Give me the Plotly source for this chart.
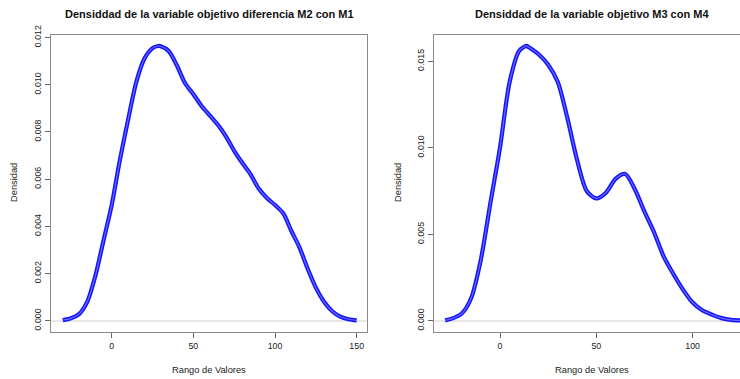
import plotly.graph_objects as go

# Left panel: density of M2 - M1 difference
x_left = [-30, -25, -20, -15, -10, -5, 0, 5, 10, 15, 20, 25, 28.5, 30, 35, 40, 45, 50, 55, 60,
          65, 70, 75, 80, 85, 90, 95, 100, 105, 110, 115, 120, 125, 130, 135, 140, 145, 150]
y_left = [0.00002, 0.0001, 0.00028, 0.0008, 0.0019, 0.0034, 0.0049, 0.0068, 0.0085, 0.0101,
          0.0111, 0.01155, 0.01164, 0.01163, 0.01142, 0.0108, 0.01005, 0.0096, 0.0091, 0.0087,
          0.0083, 0.0078, 0.0072, 0.00668, 0.0062, 0.0056, 0.0052, 0.0049, 0.00455, 0.0038,
          0.0031, 0.0022, 0.0014, 0.0008, 0.0004, 0.00017, 0.00006, 0.00001]

# Right panel: density of M3 vs M4
x_right = [-28.5, -25, -20, -15, -10, -5, 0, 5, 10, 13.8, 15, 20, 25, 30, 35, 40, 45, 50, 55,
           60, 65, 70, 75, 80, 85, 90, 95, 100, 105, 110, 115, 120, 125]
y_right = [0.00002, 0.00012, 0.0004, 0.0013, 0.0035, 0.0068, 0.0100, 0.0138, 0.0156, 0.01588,
           0.0158, 0.0154, 0.0148, 0.0138, 0.0117, 0.0093, 0.0075, 0.00707, 0.0074, 0.0082,
           0.00848, 0.0076, 0.0063, 0.0051, 0.0037, 0.0027, 0.0018, 0.00105, 0.0006, 0.00035,
           0.00015, 0.00005, 0.00002]

title_left = "Densiddad de la variable objetivo diferencia M2 con M1"
title_right = "Densiddad de la variable objetivo M3 con M4"
x_label = "Rango de Valores"
y_label = "Densidad"

left_yticks = [0.000, 0.002, 0.004, 0.006, 0.008, 0.010, 0.012]
right_yticks = [0.000, 0.005, 0.010, 0.015]
left_xticks = [0, 50, 100, 150]
right_xticks = [0, 50, 100]

W, H = 740, 379
ML, MT, MB = 51, 35, 47
plot_w = W - ML
plot_h = H - MT - MB
d_left = [0, (367 - ML) / plot_w]
d_right = [(434 - ML) / plot_w, 1.0]

fig = go.Figure()
line_blue = "rgb(20,20,255)"
for xs, ys, xa, ya in [(x_left, y_left, "x", "y"), (x_right, y_right, "x2", "y2")]:
    fig.add_trace(go.Scatter(x=xs, y=ys, mode="lines", xaxis=xa, yaxis=ya,
                             line=dict(color=line_blue, width=4.2, shape="spline", smoothing=0.8),
                             showlegend=False, hoverinfo="skip"))
    fig.add_trace(go.Scatter(x=xs, y=ys, mode="lines", xaxis=xa, yaxis=ya,
                             line=dict(color="rgba(190,190,255,0.5)", width=1.2, shape="spline", smoothing=0.8),
                             showlegend=False, hoverinfo="skip"))

font_tick = dict(family="Liberation Sans, Arial", size=8.8, color="#222")
box_col = "#8a8a8a"

common_x = dict(showline=True, linecolor=box_col, linewidth=1, ticks="outside", ticklen=5,
                tickcolor="#666", tickfont=font_tick, showgrid=False, zeroline=False)
common_y = dict(showline=True, linecolor=box_col, linewidth=1, ticks="outside", ticklen=5,
                tickcolor="#666", tickfont=font_tick, showgrid=False, zeroline=True,
                zerolinecolor="#e8e8e8", zerolinewidth=2, tickangle=-90, tickformat=".3f")

fig.update_layout(
    width=W, height=H,
    margin=dict(l=ML, r=0, t=MT, b=MB),
    paper_bgcolor="white", plot_bgcolor="white",
    xaxis=dict(domain=d_left, range=[-37.16, 156.3], tickvals=left_xticks, mirror=True, anchor="y", **common_x),
    yaxis=dict(range=[-0.000479, 0.012106], tickvals=left_yticks, mirror=True, anchor="x", **common_y),
    xaxis2=dict(domain=d_right, range=[-34.27, 124.6], tickvals=right_xticks, mirror=True, anchor="y2", **common_x),
    yaxis2=dict(range=[-0.000653, 0.016514], tickvals=right_yticks, mirror=False, anchor="x2", **common_y),
)

font_lab = dict(family="Liberation Sans, Arial", size=9.3, color="#222")
font_title = dict(family="Liberation Sans, Arial", size=11, color="#111")
annots = [
    ("<b>" + title_left + "</b>", 209, 14, font_title, 0),
    ("<b>" + title_right + "</b>", 592, 14, font_title, 0),
    (x_label, 209, 370, font_lab, 0),
    (x_label, 592, 370, font_lab, 0),
    (y_label, 14, 183, font_lab, -90),
    (y_label, 398, 183, font_lab, -90),
]
for text, px, py, fnt, ang in annots:
    fig.add_annotation(text=text, x=(px - ML) / plot_w, y=(H - MB - py) / plot_h,
                       xref="paper", yref="paper", xanchor="center", yanchor="middle",
                       showarrow=False, font=fnt, textangle=ang)

fig.write_html("out.html", config={"displayModeBar": False},
               post_script="document.body.style.margin='0';document.body.style.overflow='hidden';")
